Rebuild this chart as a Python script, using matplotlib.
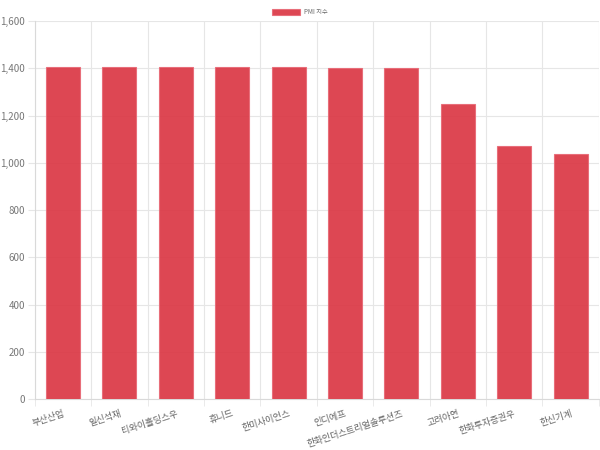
import matplotlib.pyplot as plt
import numpy as np
from matplotlib.ticker import FuncFormatter

plt.rcParams['font.family'] = ['Noto Sans CJK KR', 'DejaVu Sans']

companies = ["부산산업", "일신석재", "티와이홀딩스우", "휴니드", "한미사이언스",
             "인디에프", "한화인더스트리얼솔루션즈", "고려아연", "한화투자증권우", "한신기계"]
pmi = [1407, 1406, 1406, 1404, 1404, 1403, 1402, 1251, 1072, 1037]

fig = plt.figure(figsize=(6, 4.5), dpi=100)
ax = fig.add_axes([0.058, 0.113, 0.94, 0.84])

X = np.arange(len(companies))
bars = ax.bar(X, pmi, 0.6, color='#db3744', alpha=0.92, edgecolor='#e86a76',
              linewidth=0.8, label="PMI 지수", zorder=3)

ax.set_xlim(-0.5, len(companies) - 0.5)
ax.set_ylim(0, 1600)
ax.set_yticks(range(0, 1601, 200))
ax.yaxis.set_major_formatter(FuncFormatter(lambda v, p: f"{int(v):,}"))

# category boundary grid lines
ax.set_xticks(X)
ax.set_xticks(np.arange(-0.5, len(companies)), minor=True)
ax.grid(axis='x', which='minor', color='#e6e6e6', linewidth=0.8, zorder=0)
ax.grid(axis='y', which='major', color='#e6e6e6', linewidth=0.8, zorder=0)
ax.tick_params(axis='x', which='major', length=0, pad=7)
ax.tick_params(axis='x', which='minor', length=5, color='#e6e6e6')
ax.tick_params(axis='y', length=5, color='#e6e6e6', labelsize=7, labelcolor='#777777', pad=2)
ax.set_xticklabels(companies, rotation=18, ha='right', rotation_mode='anchor',
                   fontsize=6.6, color='#666666')

for side in ['top', 'right']:
    ax.spines[side].set_visible(False)
for side in ['left', 'bottom']:
    ax.spines[side].set_color('#d9d9d9')
    ax.spines[side].set_linewidth(0.8)

fig.legend(handles=[bars], loc='upper center', bbox_to_anchor=(0.5, 0.995), frameon=False,
           fontsize=4.5, handlelength=4.5, handleheight=1.2, handletextpad=0.6,
           labelcolor='#666666')

fig.savefig("out.png", dpi=100)
